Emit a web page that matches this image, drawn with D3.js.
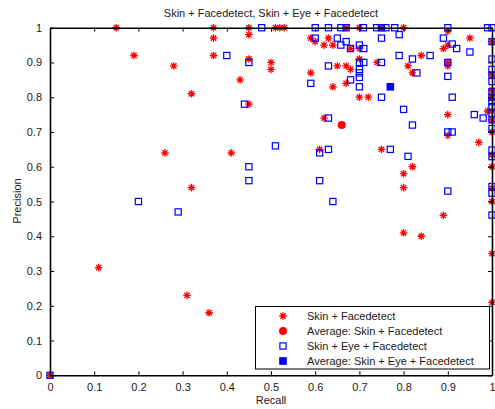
<!DOCTYPE html>
<html>
<head>
<meta charset="utf-8">
<script src="https://cdn.jsdelivr.net/npm/d3@7"></script>
<style>
  html, body { margin: 0; padding: 0; background: #fff; }
  svg { display: block; font-family: "Liberation Sans", Arial, Helvetica, sans-serif; }
</style>
</head>
<body>
<div id="chart"></div>
<script>
// ---- Data ----
const chartTitle = "Skin + Facedetect, Skin + Eye + Facedetect";
const xLabel = "Recall";
const yLabel = "Precision";
const tickValues = [0, 0.1, 0.2, 0.3, 0.4, 0.5, 0.6, 0.7, 0.8, 0.9, 1];
const tickLabels = ["0", "0.1", "0.2", "0.3", "0.4", "0.5", "0.6", "0.7", "0.8", "0.9", "1"];
const seriesNames = [
  "Skin + Facedetect",
  "Average: Skin + Facedetect",
  "Skin + Eye + Facedetect",
  "Average: Skin + Eye + Facedetect"
];

// Skin + Facedetect: recall values
const skinRecall = [
  0, 0.11, 0.15, 0.19, 0.26, 0.28, 0.31, 0.32, 0.32, 0.36,
  0.37, 0.37, 0.37, 0.41, 0.43, 0.45, 0.45, 0.45, 0.45, 0.50,
  0.50, 0.51, 0.52, 0.53, 0.59, 0.60, 0.63, 0.62, 0.64, 0.68,
  0.70, 0.59, 0.65, 0.67, 0.68, 0.70, 0.64, 0.67, 0.70, 0.72,
  0.67, 0.70, 0.74, 0.62, 0.61, 0.75, 0.75, 0.80, 0.84, 0.81,
  0.82, 0.90, 0.90, 0.89, 0.90, 0.90, 0.95, 0.90, 0.90, 0.99,
  0.97, 0.82, 0.80, 0.80, 0.80, 0.84, 0.89,
  1, 1, 1, 1, 1, 1, 1, 1, 1, 1, 1, 1, 1
];
// Skin + Facedetect: precision values
const skinPrecision = [
  0, 0.31, 1.0, 0.92, 0.64, 0.89, 0.23, 0.81, 0.54, 0.18,
  1.0, 0.97, 0.92, 0.64, 0.85, 1.0, 0.98, 0.91, 0.78, 0.90,
  0.88, 1.0, 1.0, 1.0, 0.97, 0.96, 0.97, 0.95, 0.95, 0.94,
  0.94, 0.87, 0.89, 0.89, 0.88, 0.91, 0.83, 0.84, 0.80, 0.80,
  1.0, 1.0, 0.90, 0.74, 0.65, 0.65, 1.0, 1.0, 0.92, 0.89,
  0.87, 0.99, 0.95, 0.94, 0.90, 0.89, 0.97, 0.75, 0.69, 0.76,
  0.67, 0.60, 0.58, 0.54, 0.41, 0.40, 0.46,
  0.96, 0.864, 0.82, 0.80, 0.76, 0.735, 0.70, 0.634, 0.60, 0.538, 0.50, 0.35, 0.21
];

// Skin + Eye + Facedetect: recall values
const eyeRecall = [
  0, 0.20, 0.29, 0.40, 0.45, 0.44, 0.45, 0.45, 0.479, 0.51,
  0.60, 0.63, 0.658, 0.67, 0.709, 0.739, 0.75, 0.76, 0.78, 0.90, 0.99, 1.0,
  0.60, 0.65, 0.67, 0.658, 0.68, 0.70, 0.71, 0.63, 0.70, 0.71,
  0.70, 0.70, 0.70, 0.68, 0.59, 0.70, 0.75, 0.75, 0.75, 0.79,
  0.89, 0.91, 0.92, 0.95, 0.79, 0.86, 0.82, 0.90, 0.83, 0.90,
  0.91, 0.80, 0.63, 0.61, 0.63, 0.61, 0.77, 0.81, 0.82, 0.96,
  0.98, 0.90, 0.91, 0.90, 0.64,
  1, 1, 1, 1, 1, 1, 1, 1, 1, 1, 1, 1, 1, 1, 1, 1, 1
];
// Skin + Eye + Facedetect: precision values
const eyePrecision = [
  0, 0.50, 0.47, 0.92, 0.90, 0.78, 0.60, 0.56, 1.0, 0.66,
  1.0, 1.0, 1.0, 1.0, 1.0, 1.0, 1.0, 1.0, 1.0, 1.0, 1.0, 1.0,
  0.97, 0.97, 0.96, 0.95, 0.94, 0.95, 0.94, 0.89, 0.90, 0.90,
  0.88, 0.87, 0.857, 0.85, 0.84, 0.83, 0.90, 0.80, 0.97, 0.98,
  0.97, 0.953, 0.94, 0.93, 0.92, 0.92, 0.91, 0.90, 0.87, 0.86,
  0.80, 0.765, 0.74, 0.64, 0.65, 0.56, 0.65, 0.63, 0.72, 0.75,
  0.74, 0.70, 0.70, 0.53, 0.50,
  0.96, 0.91, 0.88, 0.864, 0.845, 0.816, 0.80, 0.787, 0.773, 0.754, 0.735, 0.71, 0.648, 0.629, 0.543, 0.524, 0.461
];

// Averages
const avgSkin = [0.66, 0.72];
const avgEye = [0.77, 0.83];

// ---- Layout ----
const W = 495, H = 409;
const padL = 50, padR = 492, padT = 27.7, padB = 375.3;
const red = "#ff0000", blue = "#0000ff";

const svg = d3.select("#chart").append("svg")
  .attr("width", W).attr("height", H);

const x = d3.scaleLinear().domain([0, 1]).range([padL, padR]);
const y = d3.scaleLinear().domain([0, 1]).range([padB, padT]);

const fmt = d => tickLabels[tickValues.findIndex(t => Math.abs(t - d) < 1e-9)];

// Axes (ticks inward, MATLAB style box)
const axB = d3.axisBottom(x).tickValues(tickValues).tickFormat(fmt).tickSizeInner(-4).tickSizeOuter(0).tickPadding(8);
const axL = d3.axisLeft(y).tickValues(tickValues).tickFormat(fmt).tickSizeInner(-4).tickSizeOuter(0).tickPadding(8);
const axT = d3.axisTop(x).tickValues(tickValues).tickFormat("").tickSizeInner(-4).tickSizeOuter(0);
const axR = d3.axisRight(y).tickValues(tickValues).tickFormat("").tickSizeInner(-4).tickSizeOuter(0);

function styleAxis(g) {
  g.select(".domain").attr("stroke", "#000").attr("stroke-width", 1.6);
  g.selectAll(".tick line").attr("stroke", "#000").attr("stroke-width", 1);
  g.selectAll(".tick text").attr("fill", "#1a1a1a").attr("font-size", 11)
    .attr("font-family", "'Liberation Sans', Arial, sans-serif");
}

const gMarks = svg.append("g");

svg.append("g").attr("transform", `translate(0,${padB})`).call(axB).call(styleAxis);
svg.append("g").attr("transform", `translate(${padL},0)`).call(axL).call(styleAxis);
svg.append("g").attr("transform", `translate(0,${padT})`).call(axT).call(styleAxis);
svg.append("g").attr("transform", `translate(${padR},0)`).call(axR).call(styleAxis);

// Marker drawing helpers
function asterisk(g, cx, cy, r) {
  const d = r * Math.SQRT1_2;
  const p = `M${cx - r},${cy}L${cx + r},${cy}M${cx},${cy - r}L${cx},${cy + r}` +
            `M${cx - d},${cy - d}L${cx + d},${cy + d}M${cx - d},${cy + d}L${cx + d},${cy - d}`;
  g.append("path").attr("d", p).attr("stroke", red).attr("stroke-width", 1.3).attr("fill", "none");
}
function square(g, cx, cy, s, filled) {
  g.append("rect").attr("x", cx - s / 2).attr("y", cy - s / 2)
    .attr("width", s).attr("height", s)
    .attr("fill", filled ? blue : "none")
    .attr("stroke", blue).attr("stroke-width", 1.2);
}

// Skin + Facedetect points
skinRecall.forEach((r, i) => asterisk(gMarks, x(r), y(skinPrecision[i]), 3.8));
// Skin + Eye + Facedetect points
eyeRecall.forEach((r, i) => square(gMarks, x(r), y(eyePrecision[i]), 6.2, false));
// Averages
gMarks.append("circle").attr("cx", x(avgSkin[0])).attr("cy", y(avgSkin[1])).attr("r", 4).attr("fill", red);
square(gMarks, x(avgEye[0]), y(avgEye[1]), 6.4, true);

// Title and axis labels
svg.append("text").attr("x", 271).attr("y", 17).attr("text-anchor", "middle")
  .attr("font-size", 11).attr("fill", "#1a1a1a").text(chartTitle);
svg.append("text").attr("x", 271).attr("y", 404).attr("text-anchor", "middle")
  .attr("font-size", 11).attr("fill", "#1a1a1a").text(xLabel);
svg.append("text").attr("transform", "translate(21,201) rotate(-90)").attr("text-anchor", "middle")
  .attr("font-size", 11).attr("fill", "#1a1a1a").text(yLabel);

// Legend
const lg = svg.append("g");
lg.append("rect").attr("x", 255.5).attr("y", 306.5).attr("width", 234).attr("height", 62.5)
  .attr("fill", "#fff").attr("stroke", "#000").attr("stroke-width", 1);
const rowY = [316, 331, 346, 361];
seriesNames.forEach((name, i) => {
  const mx = 283, my = rowY[i];
  if (i === 0) asterisk(lg, mx, my, 3.8);
  else if (i === 1) lg.append("circle").attr("cx", mx).attr("cy", my).attr("r", 4).attr("fill", red);
  else if (i === 2) square(lg, mx, my, 6.2, false);
  else square(lg, mx, my, 6.4, true);
  lg.append("text").attr("x", 307).attr("y", my + 4).attr("font-size", 11)
    .attr("fill", "#1a1a1a").text(name);
});
</script>
</body>
</html>
